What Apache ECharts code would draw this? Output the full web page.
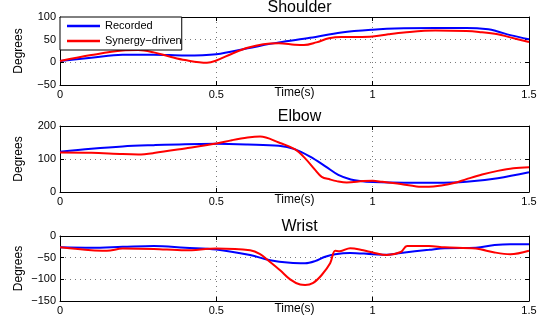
<!DOCTYPE html>
<html>
<head>
<meta charset="utf-8">
<script src="https://cdn.jsdelivr.net/npm/echarts@6/dist/echarts.min.js"></script>
<style>html,body{margin:0;padding:0;background:#fff}#c{width:545px;height:321px}</style>
</head>
<body>
<div id="c"></div>
<script>
var panelTitles = ['Shoulder', 'Elbow', 'Wrist'];
var seriesNames = ['Recorded', 'Synergy\u2212driven'];
var xTicks = [0, 0.5, 1, 1.5];
var yRanges = [[-50, 100, 50], [0, 200, 100], [-150, 0, 50]];

var shoulderRecT = [0, 0.1, 0.2, 0.3, 0.4, 0.5, 0.6, 0.7, 0.8, 0.9, 1.0, 1.1, 1.2, 1.3, 1.37, 1.4, 1.44, 1.5];
var shoulderRecV = [3, 10, 17, 17, 15, 18, 31, 44, 54, 66, 72, 75, 76, 76, 73, 68, 60, 51];
var shoulderSynT = [0, 0.1, 0.2, 0.25, 0.3, 0.35, 0.4, 0.47, 0.5, 0.55, 0.6, 0.65, 0.7, 0.75, 0.78, 0.82, 0.86, 0.9, 0.95, 1.0, 1.05, 1.1, 1.2, 1.3, 1.34, 1.4, 1.44, 1.5];
var shoulderSynV = [3, 16, 26, 27, 22, 13, 5, -1, 4, 19, 32, 40, 42, 39, 38, 44, 53, 56, 56, 57, 62, 66, 70, 69, 67, 62, 55, 45];

var elbowRecT = [0, 0.1, 0.2, 0.3, 0.4, 0.5, 0.6, 0.7, 0.75, 0.8, 0.85, 0.89, 0.93, 0.96, 1.0, 1.1, 1.2, 1.3, 1.4, 1.5];
var elbowRecV = [122, 131, 138, 142, 145, 146, 144, 140, 130, 107, 77, 52, 38, 33, 30, 28, 28, 31, 42, 60];
var elbowSynT = [0, 0.1, 0.2, 0.25, 0.3, 0.4, 0.5, 0.55, 0.6, 0.64, 0.7, 0.752, 0.784, 0.816, 0.837, 0.864, 0.885, 0.917, 0.97, 1.0, 1.03, 1.09, 1.14, 1.18, 1.22, 1.26, 1.3, 1.35, 1.4, 1.45, 1.5];
var elbowSynV = [120, 119, 115, 114, 118, 132, 147, 157, 165, 168, 150, 129, 102, 67, 46, 38, 33, 29, 33, 34, 31, 24, 17, 16, 20, 27, 39, 53, 64, 72, 75];

var wristRecT = [0, 0.1, 0.2, 0.3, 0.4, 0.5, 0.608, 0.672, 0.736, 0.784, 0.816, 0.848, 0.88, 0.928, 1.0, 1.045, 1.09, 1.18, 1.23, 1.33, 1.39, 1.44, 1.5];
var wristRecV = [-26, -27, -25, -23, -27, -31, -44, -56, -62, -63, -58, -48, -42, -39, -42, -43, -39, -32, -28, -27, -21, -19, -19];
var wristSynT = [0, 0.1, 0.15, 0.2, 0.3, 0.4, 0.5, 0.608, 0.64, 0.672, 0.704, 0.736, 0.768, 0.784, 0.81, 0.837, 0.864, 0.88, 0.895, 0.928, 0.97, 1.0, 1.045, 1.09, 1.11, 1.18, 1.23, 1.33, 1.39, 1.44, 1.5];
var wristSynV = [-26, -33, -34, -29, -30, -33, -29, -33, -42, -60, -79, -100, -112, -113, -108, -90, -63, -34, -35, -28, -33, -38, -44, -37, -23, -23, -26, -29, -38, -42, -34];

function pairs(t, v) { return t.map(function (x, i) { return [x, v[i]]; }); }
var panels = [
  [pairs(shoulderRecT, shoulderRecV), pairs(shoulderSynT, shoulderSynV)],
  [pairs(elbowRecT, elbowRecV), pairs(elbowSynT, elbowSynV)],
  [pairs(wristRecT, wristRecV), pairs(wristSynT, wristSynV)]
];
var colors = ['#0000ff', '#ff0000'];
var FONT = 'Liberation Sans';
var gridTops = [17, 126, 236];
var gridHeights = [68, 66, 65];

function fmt(v) { return String(v).replace('-', '\u2212'); }

var grids = [], xAxes = [], yAxes = [], series = [], titles = [];
for (var g = 0; g < 3; g++) {
  grids.push({ left: 60, top: gridTops[g], width: 469, height: gridHeights[g], show: false });
  titles.push({ text: panelTitles[g], left: 294.5, top: gridTops[g] - 22, textAlign: 'center',
    textStyle: { fontFamily: FONT, fontSize: 16, fontWeight: 'normal', color: '#000' } });
  var axLine = { show: true, onZero: false, lineStyle: { color: '#000', width: 1 } };
  var tick = { show: true, inside: true, length: 4, lineStyle: { color: '#000' } };
  xAxes.push({ type: 'value', gridIndex: g, position: 'bottom', min: 0, max: 1.5, interval: 0.5,
    axisLine: axLine, axisTick: tick,
    axisLabel: { fontFamily: FONT, fontSize: 11, color: '#000', margin: 4, formatter: fmt },
    splitLine: { show: true, lineStyle: { color: '#7a7a7a', type: [1, 4], width: 1 } },
    name: 'Time(s)', nameLocation: 'middle', nameGap: 2, nameMoveOverlap: false,
    nameTextStyle: { fontFamily: FONT, fontSize: 12, color: '#000' } });
  xAxes.push({ type: 'value', gridIndex: g, position: 'top', min: 0, max: 1.5, interval: 0.5,
    axisLine: axLine, axisTick: tick, axisLabel: { show: false }, splitLine: { show: false } });
  var r = yRanges[g];
  yAxes.push({ type: 'value', gridIndex: g, position: 'left', min: r[0], max: r[1], interval: r[2],
    axisLine: axLine, axisTick: tick,
    axisLabel: { fontFamily: FONT, fontSize: 11, color: '#000', margin: 4, formatter: fmt },
    splitLine: { show: true, lineStyle: { color: '#7a7a7a', type: [1, 4], width: 1 } },
    name: 'Degrees', nameLocation: 'middle', nameRotate: 90, nameGap: 35, nameMoveOverlap: false,
    nameTextStyle: { fontFamily: FONT, fontSize: 12, color: '#000' } });
  yAxes.push({ type: 'value', gridIndex: g, position: 'right', min: r[0], max: r[1], interval: r[2],
    axisLine: axLine, axisTick: tick, axisLabel: { show: false }, splitLine: { show: false } });
  for (var s = 0; s < 2; s++) {
    series.push({ type: 'line', name: seriesNames[s], xAxisIndex: g * 2, yAxisIndex: g * 2,
      data: panels[g][s], showSymbol: false, smooth: 0.35, z: 2 + s,
      lineStyle: { color: colors[s], width: 2 }, itemStyle: { color: colors[s] } });
  }
}

var chart = echarts.init(document.getElementById('c'), null, { renderer: 'canvas' });
chart.setOption({
  animation: false,
  title: titles,
  grid: grids,
  xAxis: xAxes,
  yAxis: yAxes,
  legend: { data: seriesNames, orient: 'vertical', left: 60, top: 17, icon: 'rect',
    itemWidth: 33, itemHeight: 2.5, itemGap: 3, padding: [3, 0, 3, 7],
    backgroundColor: '#fff', borderColor: '#000', borderWidth: 1, borderRadius: 0,
    textStyle: { fontFamily: FONT, fontSize: 11, color: '#000', lineHeight: 12 } },
  series: series
});
</script>
</body>
</html>
